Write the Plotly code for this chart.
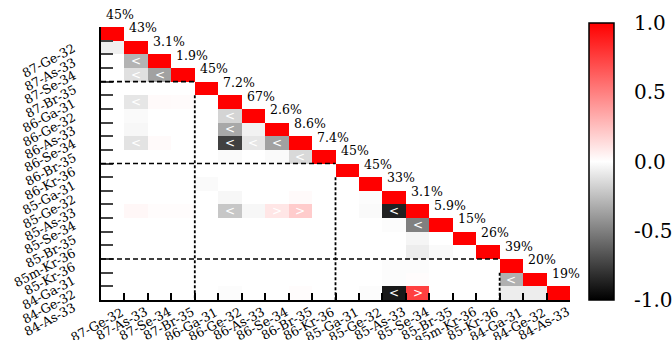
import plotly.graph_objects as go

labels = ["87-Ge-32", "87-As-33", "87-Se-34", "87-Br-35", "86-Ga-31", "86-Ge-32",
          "86-As-33", "86-Se-34", "86-Br-35", "86-Kr-36", "85-Ga-31", "85-Ge-32",
          "85-As-33", "85-Se-34", "85-Br-35", "85m-Kr-36", "85-Kr-36", "84-Ga-31",
          "84-Ge-32", "84-As-33"]

diag_pct = ["45%", "43%", "3.1%", "1.9%", "45%", "7.2%", "67%", "2.6%", "8.6%", "7.4%",
            "45%", "45%", "33%", "3.1%", "5.9%", "15%", "26%", "39%", "20%", "19%"]

# lower-triangle correlations: (row, col, value)
offdiag = [
    (1, 0, -0.06),
    (2, 1, -0.30),
    (3, 1, -0.12), (3, 2, -0.37),
    (5, 1, -0.10), (5, 2, 0.02), (5, 3, 0.015),
    (6, 1, -0.02), (6, 5, -0.17),
    (7, 1, -0.03), (7, 5, -0.34), (7, 6, -0.05),
    (8, 1, -0.11), (8, 2, 0.02), (8, 5, -0.75), (8, 6, -0.10), (8, 7, -0.37),
    (9, 5, -0.02), (9, 7, -0.02), (9, 8, -0.15),
    (11, 4, -0.02),
    (12, 5, -0.03), (12, 8, 0.02), (12, 11, -0.01),
    (13, 1, 0.03), (13, 2, 0.01), (13, 3, 0.01), (13, 5, -0.22), (13, 6, -0.03),
    (13, 7, 0.10), (13, 8, 0.20), (13, 11, -0.02), (13, 12, -0.87),
    (14, 12, -0.01), (14, 13, -0.50),
    (15, 13, -0.04),
    (16, 13, -0.07), (16, 14, -0.02),
    (17, 12, -0.01), (17, 13, -0.01),
    (18, 12, -0.01), (18, 13, 0.01), (18, 17, -0.31),
    (19, 5, -0.01), (19, 8, 0.01), (19, 11, -0.01), (19, 12, -0.90), (19, 13, 0.75),
    (19, 17, -0.07), (19, 18, -0.07),
]

# significance markers: (row, col, symbol)
markers = [
    (2, 1, "<"), (3, 1, "<"), (3, 2, "<"), (5, 1, "<"), (6, 5, "<"), (7, 5, "<"),
    (8, 1, "<"), (8, 5, "<"), (8, 6, "<"), (8, 7, "<"), (9, 8, "<"), (13, 5, "<"),
    (13, 12, "<"), (14, 13, "<"), (18, 17, "<"), (19, 12, "<"),
    (13, 7, ">"), (13, 8, ">"), (19, 13, ">"),
]

group_bounds = [4, 10, 17]
cbar_ticks = [-1, -0.5, 0, 0.5, 1]
cbar_text = ["-1.0", "-0.5", "0.0", "0.5", "1.0"]

n = len(labels)
z = [[None] * n for _ in range(n)]
txt = [[""] * n for _ in range(n)]
for i in range(n):
    for j in range(i):
        z[i][j] = 0.0
    z[i][i] = 1.0
for r, c, v in offdiag:
    z[r][c] = v
for r, c, s in markers:
    txt[r][c] = s

SERIF = "DejaVu Serif"
L, R, T, B = 101, 102, 27, 40
W, H = 672, 340
pw, ph = W - L - R, H - T - B
row_h = ph / n
CB_TOP, CB_LEN, CB_X0, CB_X1 = 23, 277, 589, 614

def px_x(p):
    return (p - L) / pw

def px_y(p):
    return (H - B - p) / ph

def cb_px(v):
    return CB_TOP + CB_LEN * (1 - v) / 2

fig = go.Figure()
fig.add_trace(go.Heatmap(
    z=z, x=list(range(n)), y=list(range(n)), text=txt, texttemplate="%{text}",
    textfont=dict(color="white", size=12, family="DejaVu Sans"),
    colorscale=[[0, "#000000"], [0.5, "#ffffff"], [1, "#ff0000"]],
    zmin=-1, zmax=1, hoverongaps=False,
    colorbar=dict(
        x=px_x(CB_X0), xanchor="left", y=0, yanchor="bottom",
        lenmode="pixels", len=CB_LEN, thickness=CB_X1 - CB_X0, thicknessmode="pixels",
        outlinewidth=1.5, outlinecolor="black", xpad=0, ypad=0,
        tickvals=cbar_ticks, showticklabels=False, ticks="",
    ),
))

shapes = []
for b in group_bounds:
    shapes.append(dict(type="line", xref="x", yref="y", x0=-0.5, x1=b - 0.5,
                       y0=b - 0.5, y1=b - 0.5, layer="above",
                       line=dict(color="black", width=1.6, dash="5px,3px")))
    shapes.append(dict(type="line", xref="x", yref="y", x0=b - 0.5, x1=b - 0.5,
                       y0=b + 0.5, y1=n - 0.5, layer="above",
                       line=dict(color="black", width=1.8, dash="3px,2px")))

annotations = []
for v, t in zip(cbar_ticks, cbar_text):
    py = cb_px(v)
    annotations.append(dict(x=px_x(632), y=px_y(py), xref="paper", yref="paper", text=t,
                            showarrow=False, xanchor="left", yanchor="middle",
                            font=dict(family=SERIF, size=20, color="black")))
    if -1 < v < 1:
        for a, bb in [(CB_X0, CB_X0 + 10), (CB_X1 - 11, CB_X1)]:
            shapes.append(dict(type="line", xref="paper", yref="paper",
                               x0=px_x(a), x1=px_x(bb), y0=px_y(py), y1=px_y(py),
                               line=dict(color="black", width=1)))

for i, p in enumerate(diag_pct):
    cy = T + (i - 0.5) * row_h - 6
    annotations.append(dict(x=i - 0.5, y=px_y(cy), xref="x", yref="paper", text=p,
                            showarrow=False, xanchor="left", yanchor="middle",
                            xshift=3,
                            font=dict(family=SERIF, size=12.5, color="black")))
for i, lab in enumerate(labels):
    annotations.append(dict(x=-0.5, y=i + 0.5, xref="x", yref="y", text=lab,
                            showarrow=False, xanchor="right", yanchor="top",
                            textangle=-28, borderpad=0, borderwidth=0, xshift=-23,
                            font=dict(family=SERIF, size=12.5, color="black")))
    annotations.append(dict(x=i + 0.5, y=n - 0.5, xref="x", yref="y", text=lab,
                            showarrow=False, xanchor="right", yanchor="top",
                            textangle=-28, borderpad=0, borderwidth=0, xshift=2,
                            yshift=-4,
                            font=dict(family=SERIF, size=12.5, color="black")))

tv = [i + 0.5 for i in range(n)]
fig.update_layout(
    width=W, height=H, margin=dict(l=L, r=R, t=T, b=B),
    paper_bgcolor="white", plot_bgcolor="white",
    shapes=shapes, annotations=annotations, showlegend=False,
    xaxis=dict(range=[-0.5, n - 0.5], tickvals=tv, showticklabels=False,
               ticks="inside", ticklen=7, tickwidth=1.5, tickcolor="black",
               showline=True, linecolor="black", linewidth=2,
               showgrid=False, zeroline=False),
    yaxis=dict(range=[n - 0.5, -0.5], tickvals=tv, showticklabels=False,
               ticks="inside", ticklen=12, tickwidth=1.5, tickcolor="#444",
               showline=True, linecolor="black", linewidth=2,
               showgrid=False, zeroline=False),
)

fig.write_html("out.html")
